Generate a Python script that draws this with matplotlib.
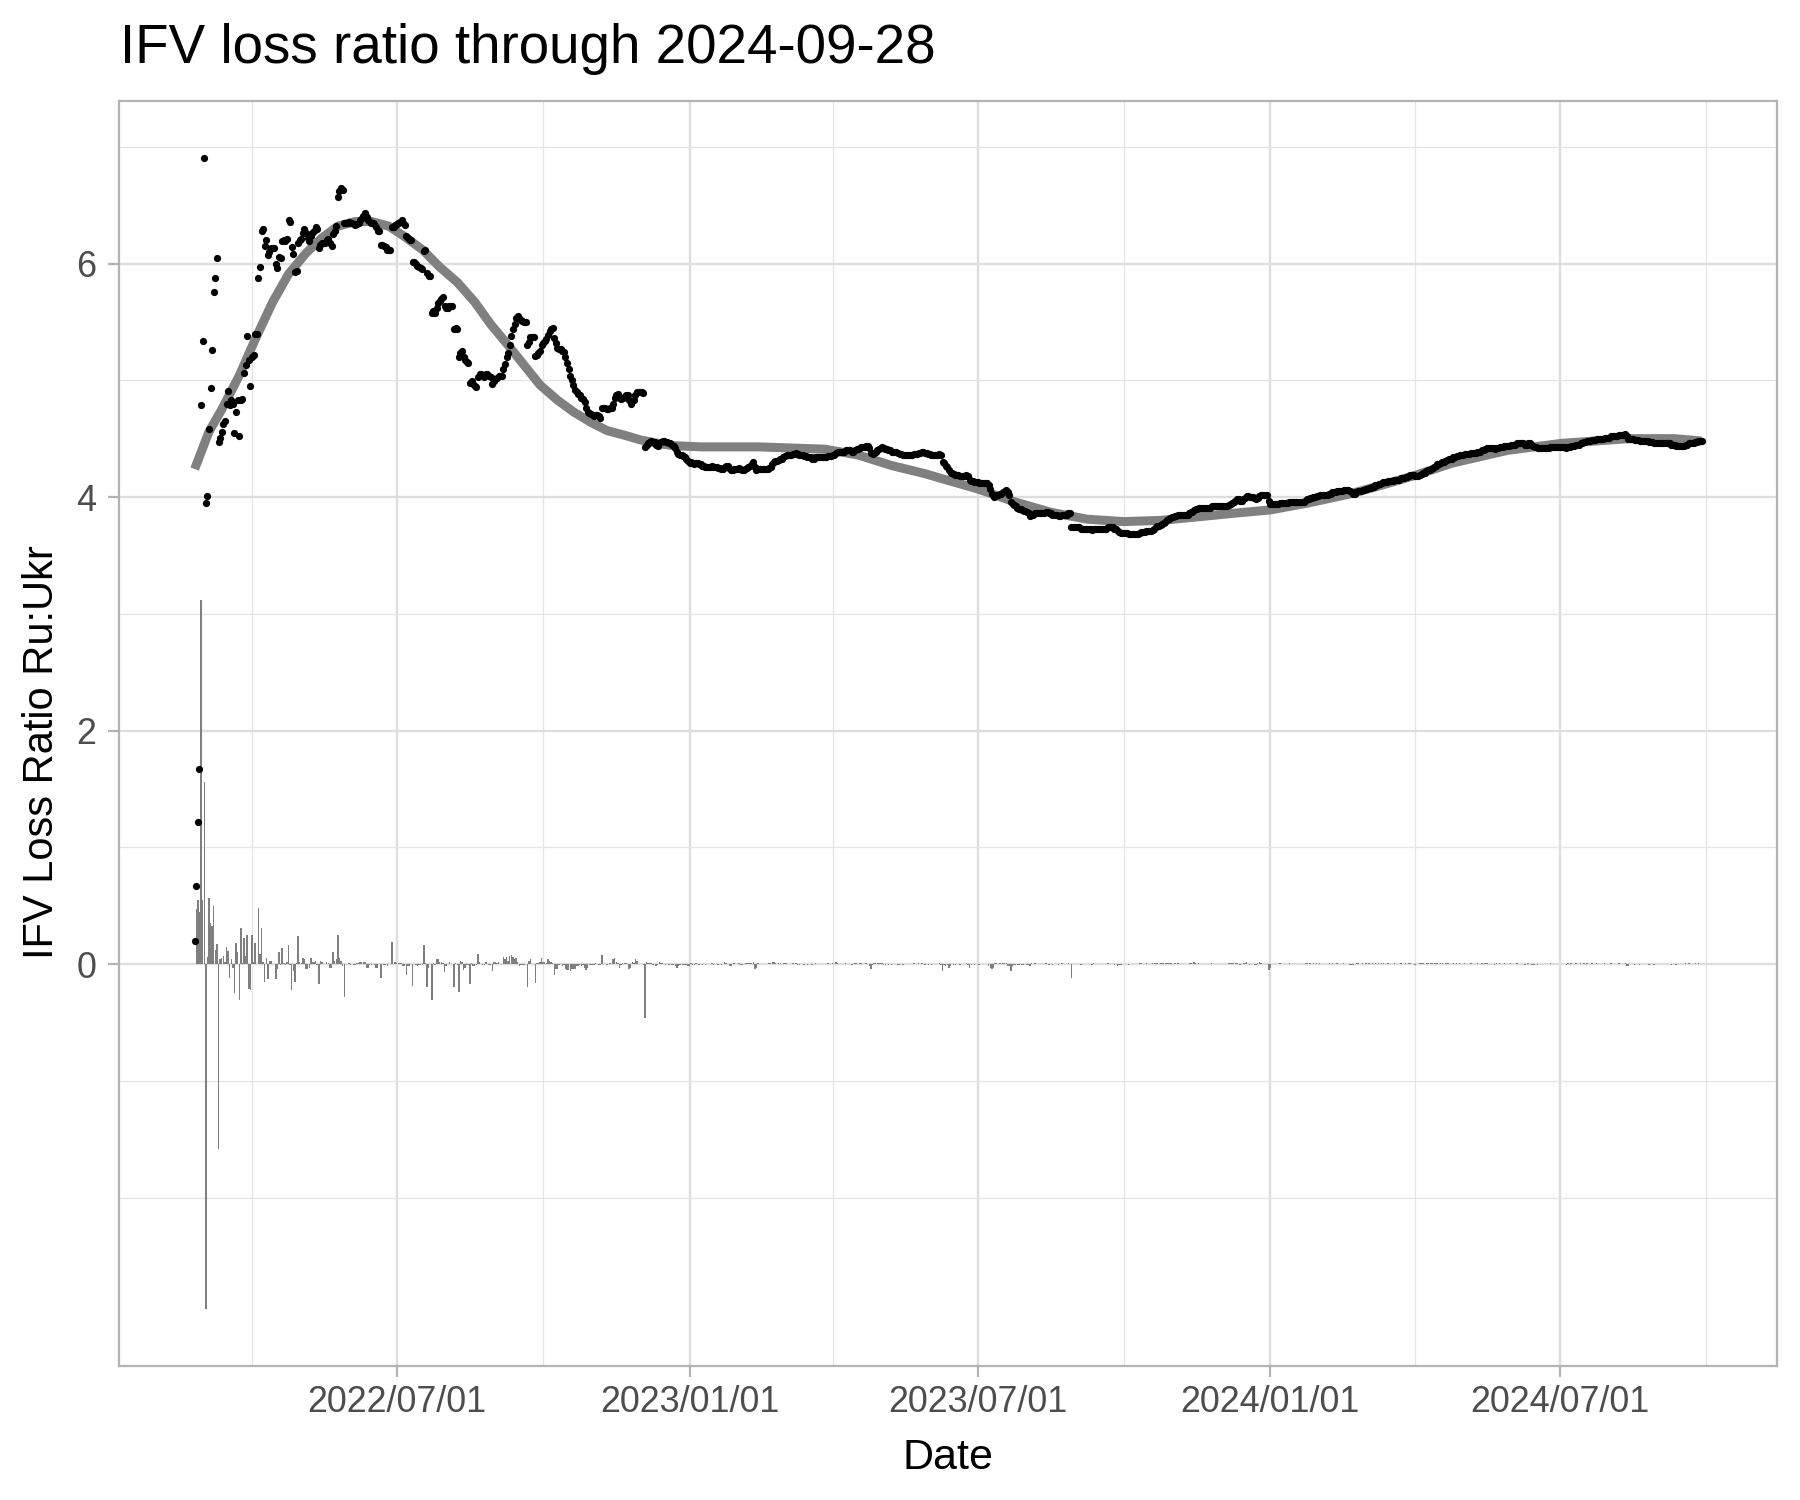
import numpy as np
import pandas as pd
import matplotlib
matplotlib.use("Agg")
import matplotlib.pyplot as plt
import matplotlib.dates as mdates
from matplotlib.ticker import FixedLocator

# daily IFV loss ratio Ru:Ukr, starting 2022-02-24
start_date = "2022-02-24"

ratio_2022 = [
    0.20, 0.67, 1.22, 1.67, 4.79, 5.34, 6.90, 3.95, 4.01, 4.58,
    4.93, 5.26, 5.76, 5.88, 6.05, 4.47, 4.51, 4.56, 4.63, 4.65,
    4.80, 4.91, 4.79, 4.83, 4.80, 4.55, 4.73, 4.83, 4.52, 4.83,
    4.84, 5.06, 5.13, 5.38, 5.17, 4.95, 5.20, 5.22, 5.40, 5.40,
    5.88, 5.97, 6.28, 6.30, 6.15, 6.20, 6.07, 6.10, 6.13, 6.13,
    6.13, 6.00, 5.96, 6.06, 6.05, 6.19, 6.20, 6.19, 6.21, 6.37,
    6.36, 6.14, 6.08, 5.93, 5.94, 6.18, 6.20, 6.21, 6.26, 6.30,
    6.26, 6.22, 6.19, 6.24, 6.26, 6.28, 6.31, 6.30, 6.13, 6.16,
    6.18, 6.18, 6.18, 6.20, 6.21, 6.18, 6.15, 6.25, 6.28, 6.32,
    6.57, 6.62, 6.65, 6.63, 6.35, 6.35, 6.35, 6.36, 6.35, 6.35,
    6.34, 6.33, 6.34, 6.35, 6.37, 6.39, 6.41, 6.43, 6.40, 6.37,
    6.36, 6.35, 6.35, 6.34, 6.31, 6.28, 6.28, 6.16, 6.16, 6.15,
    6.14, 6.12, 6.12, 6.12, 6.31, 6.31, 6.33, 6.34, 6.35, 6.36,
    6.37, 6.35, 6.33, 6.24, 6.22, 6.20, 6.20, 6.01, 6.01, 6.00,
    5.98, 5.97, 5.96, 5.95, 6.11, 6.12, 5.92, 5.89, 5.89, 5.58,
    5.59, 5.58, 5.62, 5.66, 5.68, 5.70, 5.71, 5.64, 5.62, 5.62,
    5.64, 5.64, 5.64, 5.44, 5.45, 5.44, 5.20, 5.23, 5.25, 5.20,
    5.17, 5.16, 5.15, 4.98, 4.99, 4.97, 4.95, 4.94, 5.03, 5.05,
    5.05, 5.04, 5.03, 5.05, 5.05, 5.04, 5.03, 4.97, 4.99, 5.01,
    5.02, 5.04, 5.04, 5.04, 5.10, 5.14, 5.20, 5.23, 5.30, 5.38,
    5.44, 5.48, 5.53, 5.55, 5.53, 5.52, 5.51, 5.50, 5.50, 5.30,
    5.33, 5.37, 5.37, 5.37, 5.21, 5.22, 5.23, 5.25, 5.30, 5.32,
    5.34, 5.35, 5.39, 5.42, 5.44, 5.45, 5.36, 5.32, 5.28, 5.27,
    5.27, 5.25, 5.24, 5.20, 5.15, 5.10, 5.04, 5.00, 4.96, 4.92,
    4.90, 4.88, 4.87, 4.85, 4.84, 4.81, 4.76, 4.73, 4.72, 4.71,
    4.70, 4.69, 4.70, 4.70, 4.69, 4.68, 4.76, 4.76, 4.76, 4.75,
    4.75, 4.76, 4.76, 4.80, 4.85, 4.87, 4.88, 4.85, 4.84, 4.85,
    4.86, 4.87, 4.87, 4.83, 4.80, 4.82, 4.83, 4.87, 4.90, 4.90,
    4.90, 4.90, 4.89, 4.43, 4.45, 4.46, 4.47, 4.48, 4.47, 4.47,
    4.45, 4.44, 4.46, 4.47, 4.48, 4.48, 4.47, 4.47, 4.46, 4.46,
    4.45, 4.44, 4.42, 4.39, 4.37, 4.36, 4.36, 4.35, 4.34, 4.33,
    4.31,
]

ratio_2023 = [
    4.29, 4.30, 4.29, 4.28, 4.29, 4.29, 4.28, 4.28, 4.27, 4.27,
    4.26, 4.26, 4.26, 4.26, 4.27, 4.26, 4.26, 4.26, 4.25, 4.25,
    4.24, 4.24, 4.26, 4.27, 4.27, 4.25, 4.23, 4.23, 4.24, 4.24,
    4.24, 4.25, 4.24, 4.23, 4.23, 4.24, 4.25, 4.26, 4.27, 4.28,
    4.30, 4.26, 4.23, 4.24, 4.24, 4.24, 4.24, 4.24, 4.24, 4.24,
    4.25, 4.26, 4.28, 4.30, 4.31, 4.31, 4.32, 4.33, 4.33, 4.34,
    4.35, 4.36, 4.36, 4.36, 4.36, 4.37, 4.37, 4.38, 4.37, 4.36,
    4.36, 4.36, 4.35, 4.35, 4.34, 4.34, 4.34, 4.33, 4.33, 4.34,
    4.34, 4.34, 4.34, 4.34, 4.34, 4.34, 4.34, 4.35, 4.35, 4.35,
    4.36, 4.36, 4.38, 4.39, 4.39, 4.39, 4.39, 4.39, 4.40, 4.40,
    4.40, 4.40, 4.39, 4.39, 4.40, 4.41, 4.41, 4.42, 4.43, 4.43,
    4.43, 4.44, 4.44, 4.42, 4.38, 4.37, 4.38, 4.39, 4.40, 4.41,
    4.42, 4.43, 4.42, 4.41, 4.41, 4.40, 4.40, 4.39, 4.39, 4.39,
    4.39, 4.38, 4.37, 4.37, 4.36, 4.36, 4.36, 4.36, 4.36, 4.36,
    4.36, 4.37, 4.37, 4.37, 4.38, 4.38, 4.39, 4.39, 4.38, 4.38,
    4.37, 4.37, 4.36, 4.36, 4.36, 4.36, 4.36, 4.37, 4.36, 4.30,
    4.29, 4.27, 4.26, 4.23, 4.21, 4.21, 4.20, 4.19, 4.19, 4.19,
    4.18, 4.18, 4.18, 4.18, 4.19, 4.18, 4.15, 4.14, 4.14, 4.13,
    4.13, 4.13, 4.12, 4.12, 4.12, 4.12, 4.12, 4.12, 4.10, 4.07,
    4.03, 4.00, 4.01, 4.02, 4.02, 4.03, 4.03, 4.04, 4.05, 4.06,
    4.04, 4.02, 3.96, 3.94, 3.93, 3.92, 3.91, 3.90, 3.90, 3.89,
    3.88, 3.88, 3.87, 3.86, 3.84, 3.85, 3.85, 3.86, 3.86, 3.86,
    3.86, 3.86, 3.86, 3.86, 3.87, 3.87, 3.86, 3.86, 3.85, 3.85,
    3.85, 3.85, 3.84, 3.84, 3.85, 3.85, 3.85, 3.85, 3.86, 3.86,
    3.74, 3.74, 3.74, 3.74, 3.74, 3.74, 3.73, 3.73, 3.73, 3.73,
    3.73, 3.73, 3.73, 3.72, 3.73, 3.73, 3.73, 3.73, 3.73, 3.73,
    3.73, 3.73, 3.73, 3.74, 3.74, 3.74, 3.74, 3.73, 3.73, 3.71,
    3.70, 3.69, 3.69, 3.69, 3.69, 3.69, 3.68, 3.68, 3.68, 3.68,
    3.68, 3.68, 3.68, 3.69, 3.70, 3.70, 3.70, 3.71, 3.71, 3.71,
    3.71, 3.72, 3.73, 3.74, 3.75, 3.75, 3.76, 3.77, 3.78, 3.79,
    3.80, 3.81, 3.82, 3.83, 3.83, 3.84, 3.84, 3.85, 3.85, 3.85,
    3.85, 3.85, 3.85, 3.85, 3.86, 3.87, 3.87, 3.89, 3.90, 3.90,
    3.91, 3.91, 3.91, 3.91, 3.91, 3.91, 3.91, 3.91, 3.92, 3.92,
    3.92, 3.92, 3.92, 3.92, 3.92, 3.92, 3.92, 3.92, 3.92, 3.93,
    3.94, 3.95, 3.96, 3.97, 3.98, 3.98, 3.97, 3.97, 3.98, 3.99,
    4.01, 4.01, 4.00, 4.00, 4.00, 3.99, 3.98, 3.99, 4.01, 4.02,
    4.02, 4.02, 4.02, 4.02, 3.97,
]

ratio_2024 = [
    3.94, 3.94, 3.94, 3.94, 3.94, 3.94, 3.95, 3.95, 3.95, 3.95,
    3.95, 3.95, 3.96, 3.96, 3.96, 3.96, 3.96, 3.96, 3.96, 3.96,
    3.96, 3.96, 3.97, 3.98, 3.98, 3.99, 3.99, 4.00, 4.00, 4.01,
    4.01, 4.02, 4.02, 4.02, 4.02, 4.02, 4.02, 4.03, 4.03, 4.04,
    4.04, 4.04, 4.05, 4.05, 4.05, 4.05, 4.06, 4.06, 4.06, 4.06,
    4.05, 4.04, 4.03, 4.03, 4.04, 4.05, 4.05, 4.05, 4.06, 4.06,
    4.07, 4.07, 4.08, 4.08, 4.09, 4.09, 4.10, 4.10, 4.11, 4.11,
    4.12, 4.13, 4.13, 4.13, 4.14, 4.14, 4.14, 4.14, 4.15, 4.15,
    4.15, 4.15, 4.16, 4.16, 4.16, 4.17, 4.17, 4.18, 4.19, 4.19,
    4.19, 4.18, 4.18, 4.18, 4.19, 4.20, 4.21, 4.21, 4.22, 4.23,
    4.23, 4.24, 4.25, 4.26, 4.27, 4.28, 4.28, 4.29, 4.30, 4.30,
    4.31, 4.32, 4.33, 4.33, 4.33, 4.34, 4.34, 4.35, 4.35, 4.36,
    4.36, 4.36, 4.37, 4.37, 4.37, 4.37, 4.38, 4.38, 4.38, 4.38,
    4.39, 4.39, 4.39, 4.40, 4.40, 4.41, 4.42, 4.42, 4.42, 4.42,
    4.42, 4.41, 4.42, 4.42, 4.43, 4.43, 4.43, 4.44, 4.44, 4.44,
    4.44, 4.45, 4.45, 4.45, 4.45, 4.46, 4.46, 4.46, 4.46, 4.46,
    4.45, 4.45, 4.46, 4.46, 4.45, 4.44, 4.43, 4.43, 4.42, 4.42,
    4.42, 4.42, 4.42, 4.42, 4.42, 4.42, 4.43, 4.43, 4.43, 4.43,
    4.43, 4.43, 4.43, 4.43, 4.43, 4.43, 4.42, 4.43, 4.43, 4.44,
    4.44, 4.44, 4.45, 4.45, 4.45, 4.46, 4.46, 4.47, 4.47, 4.48,
    4.48, 4.48, 4.49, 4.49, 4.49, 4.50, 4.50, 4.50, 4.50, 4.50,
    4.51, 4.51, 4.51, 4.51, 4.52, 4.52, 4.52, 4.52, 4.52, 4.53,
    4.53, 4.53, 4.53, 4.54, 4.52, 4.50, 4.50, 4.50, 4.50, 4.49,
    4.49, 4.49, 4.48, 4.48, 4.48, 4.48, 4.48, 4.48, 4.47, 4.47,
    4.47, 4.46, 4.46, 4.46, 4.46, 4.46, 4.46, 4.46, 4.46, 4.46,
    4.46, 4.46, 4.45, 4.45, 4.45, 4.44, 4.44, 4.44, 4.44, 4.44,
    4.44, 4.45, 4.45, 4.46, 4.46, 4.46, 4.46, 4.47, 4.47, 4.48,
    4.48, 4.48,
]

# smoothed trend (grey band), days after start_date and value
smooth_offsets = [0, 9, 17, 28, 38, 49, 59, 70, 80, 90, 101, 111, 122, 132,
                  143, 154, 165, 176, 186, 197, 207, 217, 228, 238, 249, 259,
                  270, 280, 291, 301, 318, 354, 396, 417, 438, 459, 469, 492,
                  515, 538, 561, 584, 607, 630, 652, 676, 700, 727, 748, 768,
                  790, 825, 859, 901, 930, 947]
smooth_values = [4.24, 4.56, 4.75, 5.04, 5.35, 5.67, 5.91, 6.09, 6.22, 6.32,
                 6.36, 6.36, 6.32, 6.23, 6.12, 5.97, 5.84, 5.67, 5.48, 5.30,
                 5.13, 4.96, 4.83, 4.73, 4.64, 4.57, 4.53, 4.49, 4.46, 4.44,
                 4.43, 4.43, 4.41, 4.36, 4.27, 4.20, 4.16, 4.07, 3.96, 3.87,
                 3.81, 3.79, 3.80, 3.83, 3.86, 3.89, 3.95, 4.03, 4.11, 4.19,
                 4.29, 4.40, 4.46, 4.50, 4.50, 4.48]

title = "IFV loss ratio through 2024-09-28"

ratio = np.array(ratio_2022 + ratio_2023 + ratio_2024)
dates = pd.date_range(start_date, periods=len(ratio), freq="D")
change = np.diff(ratio, prepend=np.nan)  # day-to-day change, drawn as bars
smooth_dates = pd.Timestamp(start_date) + pd.to_timedelta(smooth_offsets, unit="D")

plt.rcParams["font.family"] = ["Liberation Sans", "DejaVu Sans"]

fig = plt.figure(figsize=(18, 15), dpi=100)
ax = fig.add_axes([0.0663, 0.0893, 0.9209, 0.8434])

ax.bar(dates, change, width=0.9, color="#7f7f7f", linewidth=0, zorder=2)
ax.plot(smooth_dates, smooth_values, color="#808080", lw=6.5,
        solid_capstyle="butt", solid_joinstyle="round", zorder=3)
ax.scatter(dates, ratio, s=27, color="black", linewidths=0, zorder=4)

# ggplot-like 5% expansion
span = dates[-1] - dates[0]
ax.set_xlim(dates[0] - span * 0.05, dates[-1] + span * 0.05)
lo = min(np.nanmin(change), ratio.min())
hi = max(np.nanmax(change), ratio.max())
ax.set_ylim(lo - 0.05 * (hi - lo), hi + 0.05 * (hi - lo))

ax.xaxis.set_major_locator(mdates.MonthLocator(bymonth=[1, 7]))
ax.xaxis.set_minor_locator(mdates.MonthLocator(bymonth=[4, 10]))
ax.xaxis.set_major_formatter(mdates.DateFormatter("%Y/%m/%d"))
ax.yaxis.set_major_locator(FixedLocator([0, 2, 4, 6]))
ax.yaxis.set_minor_locator(FixedLocator([-2, -1, 1, 3, 5, 7]))

ax.set_axisbelow(True)
ax.grid(which="major", color="#dedede", lw=1.7)
ax.grid(which="minor", color="#e4e4e4", lw=0.9)
for sp in ax.spines.values():
    sp.set_color("#b3b3b3")
    sp.set_linewidth(1.6)

ax.tick_params(which="major", length=8, width=1.6, color="#b3b3b3",
               labelcolor="#4d4d4d", labelsize=25.8)
ax.tick_params(axis="x", which="major", pad=6)
ax.tick_params(axis="y", which="major", pad=8.5)
ax.tick_params(which="minor", length=0)

ax.set_xlabel("Date", fontsize=31)
ax.xaxis.label.set_va("baseline")
ax.xaxis.set_label_coords(0.5, -0.0814)
ax.set_ylabel("IFV Loss Ratio Ru:Ukr", fontsize=30)
ax.yaxis.label.set_va("center")
ax.yaxis.set_label_coords(-0.0464, 0.485)

fig.text(119.5 / 1800, 1 - 63 / 1500, title, fontsize=39.4,
         ha="left", va="baseline")

fig.savefig("out.png", dpi=100)
